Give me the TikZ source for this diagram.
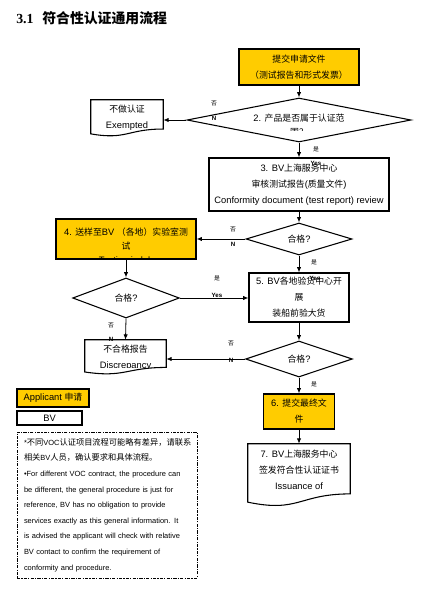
\documentclass[tikz,border=0pt]{standalone}
\usepackage{fontspec}
\setmainfont{Liberation Sans}
\newfontfamily\zhfont{Noto Sans CJK SC}[Scale=0.95]
\newfontfamily\titleserif{Liberation Serif}
\newfontfamily\titlezh{Noto Sans CJK SC}
\newcommand\zh[1]{{\zhfont #1}}
\newcommand\nzh[1]{{\zhfont\fontsize{6.5}{11.7}\selectfont #1}}
\usetikzlibrary{shapes.geometric,arrows.meta,calc}
\definecolor{bvyellow}{RGB}{255,204,0}
\newcommand\drawdoc[1]{\draw[line width=0.8pt] (#1.north west) -- (#1.north east) -- ($(#1.north east)!0.802!(#1.south east)$) .. controls ($(#1.north)!0.802!(#1.south)$) and ($(#1.north)!1.107!(#1.south)$) .. ($(#1.north west)!0.934!(#1.south west)$) -- cycle;}
\newcommand\clipdoc[1]{\clip (#1.north west) -- (#1.north east) -- ($(#1.north east)!0.802!(#1.south east)$) .. controls ($(#1.north)!0.802!(#1.south)$) and ($(#1.north)!1.107!(#1.south)$) .. ($(#1.north west)!0.934!(#1.south west)$) -- cycle;}
\tikzset{
  fs/.style={font=\fontsize{7}{12}\selectfont},
  box/.style={draw, line width=0.8pt, inner sep=0pt, align=center, fs},
  ybox/.style={box, fill=bvyellow},
  dia/.style={draw, line width=0.8pt, shape=diamond, inner sep=0pt},
  docbox/.style={inner sep=0pt, align=center, fs},
  txt/.style={inner sep=0pt, align=center, fs},
  arr/.style={-{Latex[length=4pt,width=3.2pt]}, line width=0.6pt},
  lbl/.style={inner sep=0pt, font=\fontsize{4.6}{5}\selectfont},
  lblb/.style={inner sep=0pt, font=\fontsize{4.6}{5}\selectfont\bfseries},
  notebox/.style={draw, line width=0.7pt, dash pattern=on 2.4pt off 0.9pt on 0.9pt off 0.9pt, inner sep=0pt, text width=124.5pt, align=left, font=\fontsize{5.6}{11.7}\selectfont}
}
\begin{document}
\begin{tikzpicture}[x=0.75pt,y=-0.75pt]
\useasboundingbox (0,0) rectangle (433,592);
% title
\node[anchor=west, inner sep=0pt] (title) at (16,18.5) {\fontsize{10.4}{12}\selectfont\titleserif\bfseries 3.1\hspace{6.5pt}\titlezh\bfseries 符合性认证通用流程};
% step 1
\node[ybox, minimum width=90pt, minimum height=27pt] (b1) at (299,67) {\zh{提交申请文件}\\\zh{（测试报告和形式发票）}};
% decision 2
\node[dia, minimum width=168pt, minimum height=33pt] (d2) at (299,120) {};
\node[txt] (d2t) at ($(d2)+(0,-2)$) {2. \zh{产品是否属于认证范}};
\begin{scope}
\clip ($(d2.west)+(0,-20)$) rectangle ($(d2.east)+(0,10)$);
\node[txt] (d2u) at ($(d2)+(0,12.5)$) {\zh{围？}};
\end{scope}
% exempted
\node[docbox, minimum width=54pt, minimum height=27pt] (ex) at (127,118) {\zh{不做认证}\\Exempted};
\drawdoc{ex}
% step 3
\node[box, minimum width=135pt, minimum height=39.75pt] (b3) at (299,184.5) {3. BV\zh{上海服务中心}\\\zh{审核测试报告}(\zh{质量文件})\\Conformity document (test report) review};
% q1
\node[dia, minimum width=79.5pt, minimum height=24pt] (q1) at (299,239) {};
\node[txt] (q1t) at (q1) {\zh{合格}?};
% step 4
\node[ybox, minimum width=105pt, minimum height=30pt] (b4) at (126,239) {4. \zh{送样至}BV \zh{（各地）实验室测}\\[-1.5pt]\zh{试}};
\begin{scope}
\clip (b4.north west) rectangle ($(b4.south east)+(0,-0.6)$);
\node[txt] (b4u) at ($(b4.south)+(0,2)$) {Testing in lab};
\end{scope}
% q2
\node[dia, minimum width=80pt, minimum height=30pt] (q2) at (126,298) {};
\node[txt] (q2t) at (q2) {\zh{合格}?};
% step 5
\node[box, minimum width=75pt, minimum height=36.75pt] (b5) at (299,297.5) {5. BV\zh{各地验货中心开}\\\zh{展}\\\zh{装船前验大货}};
% discrepancy
\node[docbox, minimum width=60.75pt, minimum height=25.5pt] (dis) at (125.5,357) {};
\begin{scope}
\clip (dis.north west) rectangle ($(dis.east)+(0,10.5)$);
\node[txt] (dist) at ($(dis)+(0,0.5)$) {\zh{不合格报告}\\Discrepancy};
\end{scope}
\drawdoc{dis}
% q3
\node[dia, minimum width=80pt, minimum height=27pt] (q3) at (299,359) {};
\node[txt] (q3t) at (q3) {\zh{合格}?};
% step 6
\node[ybox, minimum width=53.25pt, minimum height=26.25pt] (b6) at (299,411.5) {6. \zh{提交最终文}\\\zh{件}};
% step 7
\node[docbox, minimum width=76.5pt, minimum height=46.5pt] (d7) at (299,475) {};
\node[txt] (d7t) at ($(d7)+(0,-5.5)$) {7. BV\zh{上海服务中心}\\\zh{签发符合性认证证书}\\Issuance of};
\drawdoc{d7}
% connectors
\draw[arr] (b1.south) -- (d2.north);
\draw[arr] (d2.west) -- (d2.west -| ex.east);
\draw[arr] (d2.south) -- (b3.north);
\draw[arr] (b3.south) -- (q1.north);
\draw[arr] (q1.west) -- (q1.west -| b4.east);
\draw[arr] (q1.south) -- (b5.north);
\draw[arr] (b4.south) -- (q2.north);
\draw[arr] (q2.east) -- (q2.east -| b5.west);
\draw[arr] (q2.south) -- (dis.north);
\draw[arr] (b5.south) -- (q3.north);
\draw[arr] (q3.west) -- (q3.west -| dis.east);
\draw[arr] (q3.south) -- (b6.north);
\draw[arr] (b6.south) -- (d7.north);
% labels
\node[lbl] (l1) at (214,103) {\zh{否}};
\node[lblb] (l2) at (214,118) {N};
\node[lbl] (l3) at (316,149) {\zh{是}};
\node[lblb] (l4) at (316,163) {Yes};
\node[lbl] (l5) at (233,229) {\zh{否}};
\node[lblb] (l6) at (233,244) {N};
\node[lbl] (l7) at (314,262) {\zh{是}};
\node[lblb] (l8) at (315,278) {Yes};
\node[lbl] (l9) at (217,278) {\zh{是}};
\node[lblb] (l10) at (217,295) {Yes};
\node[lbl] (l11) at (111,325) {\zh{否}};
\node[lblb] (l12) at (111,339) {N};
\node[lbl] (l13) at (231,343) {\zh{否}};
\node[lblb] (l14) at (231,360) {N};
\node[lbl] (l15) at (314,384) {\zh{是}};
% legend
\node[ybox, minimum width=54pt, minimum height=13.5pt] (lg1) at (53,398) {Applicant \zh{申请}};
\node[box, minimum width=48.75pt, minimum height=10.5pt] (lg2) at (49.5,418) {BV};
% note
\node[notebox, minimum width=135pt, minimum height=109.5pt] (note) at (107,505) {%
\makebox[124.5pt][s]{*\nzh{不同}VOC\nzh{认证项目流程可能略有差异，请联系}}\\
\nzh{相关}BV\nzh{人员，确认要求和具体流程。}\\
\makebox[124.5pt][s]{•For different VOC contract, the procedure can}\\
\makebox[124.5pt][s]{be different, the general procedure is just for}\\
\makebox[124.5pt][s]{reference, BV has no obligation to provide}\\
\makebox[124.5pt][s]{services exactly as this general information. It}\\
\makebox[124.5pt][s]{is advised the applicant will check with relative}\\
\makebox[124.5pt][s]{BV contact to confirm the requirement of}\\
conformity and procedure.};
\end{tikzpicture}
\end{document}
